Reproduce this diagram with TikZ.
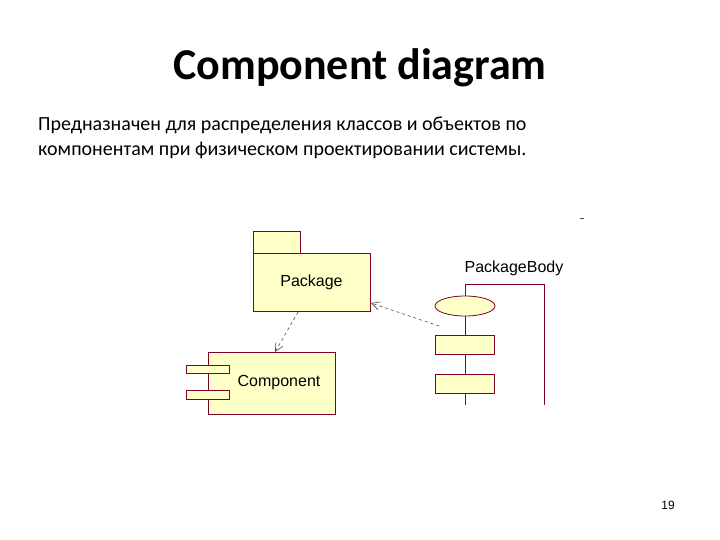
\documentclass[tikz,border=0pt]{standalone}
\usepackage{fontspec}
\setmainfont{Carlito}
\newfontfamily\arial{Liberation Sans}
\usetikzlibrary{arrows.meta,shapes.geometric}
\definecolor{umlfill}{RGB}{255,255,200}
\definecolor{umlline}{RGB}{128,0,40}
\begin{document}
\begin{tikzpicture}[x=1pt,y=-1pt,
  box/.style={draw=umlline,fill=umlfill,line width=0.8pt},
  lbl/.style={font=\arial\fontsize{16}{18}\selectfont,inner sep=0pt},
  dep/.style={draw=black!70,dashed,line width=0.6pt,-{Straight Barb[length=8pt,width=8pt]}}]
\useasboundingbox (0,0) rectangle (720,540);
% title and text
\node[font=\bfseries\fontsize{44}{48}\selectfont] (title) at (360,68) {Component diagram};
\node[anchor=north west,align=left,font=\fontsize{20}{25}\selectfont,inner sep=0pt] (desc) at (38,117)
  {Предназначен для распределения классов и объектов по\\компонентам при физическом проектировании системы.};
\node[font=\arial\fontsize{12}{14}\selectfont] (page) at (668,505) {19};
% package
\draw[box] (253,231) rectangle (300,253);
\node[box,minimum width=117pt,minimum height=58pt,inner sep=0pt] (pkg) at (311.5,282) {};
\node[lbl] (pkglbl) at (311.5,282) {Package};
% component
\node[box,minimum width=127pt,minimum height=62pt,inner sep=0pt] (comp) at (271.5,383) {};
\draw[box] (186,365) rectangle (229,373);
\draw[box] (186,390) rectangle (229,399);
\node[lbl] (complbl) at (279,383) {Component};
% package body
\node[lbl] (pblbl) at (514,268) {PackageBody};
\draw[umlline,line width=0.8pt] (465,405) -- (465,284) -- (544,284) -- (544,405);
\node[box,ellipse,minimum width=60pt,minimum height=20pt,inner sep=0pt] (ell) at (465,306) {};
\node[box,minimum width=59pt,minimum height=19pt,inner sep=0pt] (r1) at (465,344.5) {};
\node[box,minimum width=59pt,minimum height=19pt,inner sep=0pt] (r2) at (465,383.5) {};
% dependencies
\coordinate (s1) at (298,312);
\coordinate (e1) at (275,352);
\coordinate (s2) at (439,326);
\coordinate (e2) at (371,303);
\draw[dep] (s1) -- (e1);
\draw[dep] (s2) -- (e2);
\draw[black!70,line width=0.6pt] (580,218) -- (584,218);
\end{tikzpicture}
\end{document}
